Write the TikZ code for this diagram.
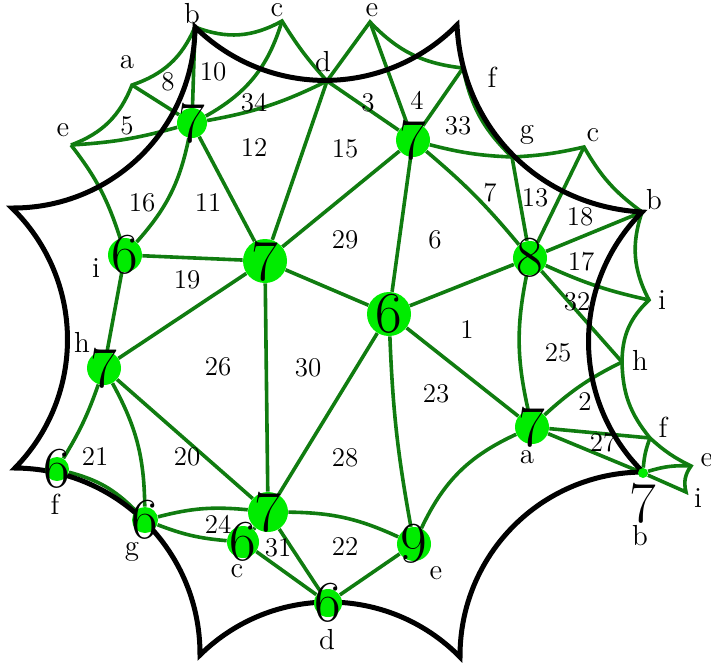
\documentclass[tikz,border=0pt]{standalone}
\usepackage{tikz}
\usetikzlibrary{backgrounds}
\definecolor{webgreen}{RGB}{16,124,16}
\definecolor{vtxgreen}{RGB}{0,236,0}

\begin{document}
\begin{tikzpicture}[x=0.5pt, y=0.5pt,
  edge/.style={draw=webgreen, line width=1.8pt},
  rim/.style={draw=black, line width=2.5pt},
  vtx/.style={circle, fill=vtxgreen, inner sep=0pt, minimum size=#1},
  big/.style={font=\fontsize{29}{29}\selectfont, inner sep=0pt},
  face/.style={font=\fontsize{13.5}{14}\selectfont, inner sep=0pt},
  tag/.style={font=\fontsize{14.5}{15}\selectfont, inner sep=0pt}]
\useasboundingbox (0,0) rectangle (711,-666);

\coordinate (pb1) at (195,-27);
\coordinate (pc1) at (282,-21);
\coordinate (pa1) at (132,-85);
\coordinate (pe1) at (71,-145);
\coordinate (pd1) at (327,-81);
\coordinate (pe2) at (370,-22);
\coordinate (pf1) at (463,-68);
\coordinate (pg1) at (512,-157);
\coordinate (pc2) at (584,-147);
\coordinate (pb2) at (642,-212);
\coordinate (pi1) at (649,-300);
\coordinate (ph1) at (622,-362);
\coordinate (pf2) at (650,-438);
\coordinate (pe3) at (691,-466);
\coordinate (pi2) at (686,-492);

\node[vtx=15pt, label={[big]center:7}] (n7a) at (192,-123) {};
\node[vtx=17pt, label={[big]center:6}] (n6a) at (125,-255) {};
\node[vtx=22pt, label={[big]center:7}] (n7b) at (265,-261) {};
\node[vtx=17pt, label={[big]center:7}] (n7c) at (413,-140) {};
\node[vtx=22pt, label={[big]center:6}] (n6b) at (389,-314) {};
\node[vtx=17pt, label={[big]center:8}] (n8) at (530,-258) {};
\node[vtx=17pt, label={[big]center:7}] (n7d) at (104,-368) {};
\node[vtx=12pt, label={[big]center:6}] (n6c) at (57,-469) {};
\node[vtx=13pt, label={[big]center:6}] (n6d) at (145,-520) {};
\node[vtx=20pt, label={[big]center:7}] (n7e) at (268,-512) {};
\node[vtx=16pt, label={[big]center:6}] (n6e) at (243,-542) {};
\node[vtx=14pt, label={[big]center:6}] (n6f) at (328,-603) {};
\node[vtx=17pt, label={[big]center:9}] (n9) at (414,-544) {};
\node[vtx=17pt, label={[big]center:7}] (n7f) at (532,-427) {};
\node[vtx=5pt, label={[big, label distance=2pt]below:7}] (n7g) at (643,-473) {};

\begin{scope}[on background layer]
\draw[edge] (pe1) to[bend right=24] (pa1) to[bend right=24] (pb1) to[bend right=25] (pc1)
  to[bend right=5] (pd1) -- (pe2) to[bend right=20] (pf1) to[bend right=17] (pg1)
  to[bend right=5] (pc2) to[bend right=12] (pb2) to[bend right=23] (pi1)
  to[bend right=23] (ph1) to[bend right=19] (pf2) to[bend right=8] (pe3)
  to[bend right=25] (pi2) -- (n7g);
\draw[edge] (n7g) to[bend left=10] (pe3);
\draw[edge] (pf2) to[bend right=8] (n7g);
\draw[edge] (n7a) -- (pb1);
\draw[edge] (n7a) -- (pa1);
\draw[edge] (n7a) to[bend left=6] (pe1);
\draw[edge] (n7a) to[bend right=22] (pc1);
\draw[edge] (n7a) to[bend right=8] (pd1);
\draw[edge] (n7a) to[bend left=15] (n6a);
\draw[edge] (n7a) -- (n7b);
\draw[edge] (pe1) to[bend left=10] (n6a);
\draw[edge] (n6a) -- (n7b);
\draw[edge] (n6a) -- (n7d);
\draw[edge] (pd1) -- (n7b);
\draw[edge] (pd1) -- (n7c);
\draw[edge] (pe2) -- (n7c);
\draw[edge] (pf1) -- (n7c);
\draw[edge] (n7c) to[bend right=6] (pg1);
\draw[edge] (n7c) to[bend left=5] (n8);
\draw[edge] (n7c) -- (n6b);
\draw[edge] (n7c) -- (n7b);
\draw[edge] (pg1) -- (n8);
\draw[edge] (pc2) -- (n8);
\draw[edge] (pb2) -- (n8);
\draw[edge] (n8) to[bend right=6] (pi1);
\draw[edge] (n8) -- (ph1);
\draw[edge] (n8) -- (n6b);
\draw[edge] (n8) to[bend right=12] (n7f);
\draw[edge] (n7f) to[bend left=8] (ph1);
\draw[edge] (n7f) -- (pf2);
\draw[edge] (n7f) -- (n7g);
\draw[edge] (n6b) -- (n7b);
\draw[edge] (n6b) -- (n7f);
\draw[edge] (n6b) to[bend right=4] (n9);
\draw[edge] (n6b) -- (n7e);
\draw[edge] (n7b) -- (n7d);
\draw[edge] (n7b) -- (n7e);
\draw[edge] (n7d) to[bend left=6] (n6c);
\draw[edge] (n7d) to[bend left=14] (n6d);
\draw[edge] (n7d) -- (n7e);
\draw[edge] (n6c) to[bend left=15] (n6d);
\draw[edge] (n6d) to[bend left=10] (n7e);
\draw[edge] (n6d) to[bend right=8] (n6e);
\draw[edge] (n7e) -- (n6e);
\draw[edge] (n7e) to[bend left=12] (n9);
\draw[edge] (n7e) -- (n6f);
\draw[edge] (n6e) -- (n6f);
\draw[edge] (n6f) -- (n9);
\draw[edge] (n9) to[bend left=20] (n7f);

\draw[rim] (12,-208) to[bend right=45] (195,-27) to[bend right=45] (457,-25)
  to[bend right=42] (642,-212) to[bend right=45] (643,-472) to[bend right=45] (460,-657)
  to[bend right=45] (200,-655) to[bend right=45] (15,-468) to[bend right=45] cycle;
\end{scope}

\node[face] (f1) at (467,-330) {1};
\node[face] (f2) at (585,-402) {2};
\node[face] (f3) at (368,-103) {3};
\node[face] (f4) at (417,-100) {4};
\node[face] (f5) at (127,-126) {5};
\node[face] (f6) at (435,-240) {6};
\node[face] (f7) at (490,-193) {7};
\node[face] (f8) at (168,-82) {8};
\node[face] (f10) at (213,-72) {10};
\node[face] (f11) at (208,-203) {11};
\node[face] (f12) at (254,-148) {12};
\node[face] (f13) at (535,-198) {13};
\node[face] (f15) at (345,-149) {15};
\node[face] (f16) at (142,-203) {16};
\node[face] (f17) at (581,-262) {17};
\node[face] (f18) at (580,-217) {18};
\node[face] (f19) at (187,-280) {19};
\node[face] (f20) at (187,-457) {20};
\node[face] (f21) at (95,-457) {21};
\node[face] (f22) at (345,-547) {22};
\node[face] (f23) at (436,-394) {23};
\node[face] (f24) at (218,-524) {24};
\node[face] (f25) at (558,-353) {25};
\node[face] (f26) at (218,-367) {26};
\node[face] (f27) at (603,-443) {27};
\node[face] (f28) at (345,-458) {28};
\node[face] (f29) at (345,-240) {29};
\node[face] (f30) at (308,-368) {30};
\node[face] (f31) at (278,-548) {31};
\node[face] (f32) at (577,-302) {32};
\node[face] (f33) at (458,-126) {33};
\node[face] (f34) at (254,-103) {34};

\node[tag] (lb1) at (192,-14) {b};
\node[tag] (lc1) at (277,-10) {c};
\node[tag] (la1) at (127,-62) {a};
\node[tag] (le1) at (63,-130) {e};
\node[tag] (ld1) at (323,-62) {d};
\node[tag] (le2) at (372,-10) {e};
\node[tag] (lf1) at (492,-77) {f};
\node[tag] (lg1) at (527,-135) {g};
\node[tag] (lc2) at (593,-135) {c};
\node[tag] (lb2) at (654,-200) {b};
\node[tag] (li1) at (662,-300) {i};
\node[tag] (lh1) at (640,-360) {h};
\node[tag] (lf2) at (663,-427) {f};
\node[tag] (le3) at (707,-460) {e};
\node[tag] (li2) at (698,-498) {i};
\node[tag] (lb3) at (640,-536) {b};
\node[tag] (la2) at (527,-457) {a};
\node[tag] (le4) at (436,-573) {e};
\node[tag] (ld2) at (327,-640) {d};
\node[tag] (lc3) at (237,-571) {c};
\node[tag] (lg2) at (132,-552) {g};
\node[tag] (lf3) at (55,-504) {f};
\node[tag] (lh2) at (82,-342) {h};
\node[tag] (li3) at (96,-268) {i};
\end{tikzpicture}
\end{document}
